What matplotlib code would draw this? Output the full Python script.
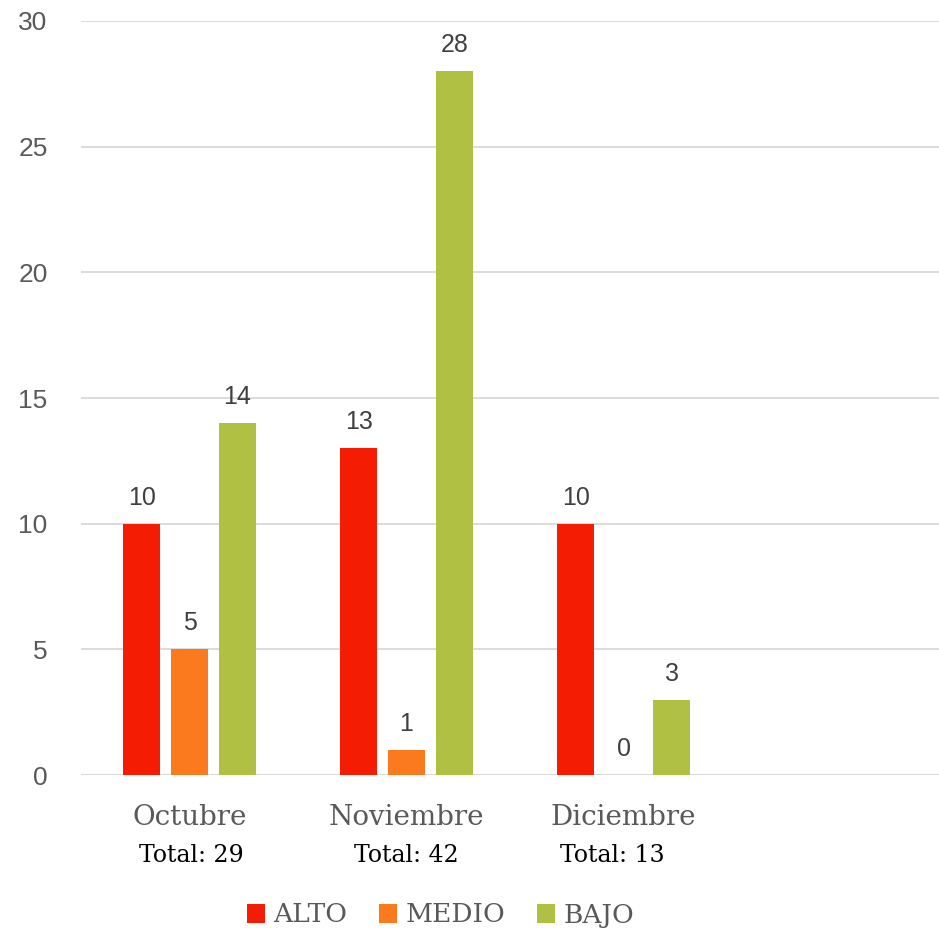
import numpy as np
import matplotlib.pyplot as plt

meses = ["Octubre", "Noviembre", "Diciembre", ""]
totales = ["Total: 29", "Total: 42", "Total: 13"]
alto = [10, 13, 10]
medio = [5, 1, 0]
bajo = [14, 28, 3]
series = ["ALTO", "MEDIO", "BAJO"]
colores = ["#F41C02", "#FA7A1D", "#B0C043"]

gris = "#595959"
fig = plt.figure(figsize=(9.39, 9.33), dpi=100)
ax = fig.add_axes([0.0863, 0.1693, 0.9244, 0.8082])

x = np.arange(len(alto))
w = 0.171
paso = 0.221
for i, (vals, nom, col) in enumerate(zip([alto, medio, bajo], series, colores)):
    pos = x + (i - 1) * paso
    ax.bar(pos, vals, w, color=col, label=nom, zorder=3)
    for p, v in zip(pos, vals):
        ax.annotate(str(v), (p, v), xytext=(0, 10), textcoords="offset points",
                    ha="center", va="bottom", fontsize=18, color="#404040",
                    family="Liberation Sans")

ax.set_xlim(-0.5, 3.5)
ax.set_ylim(0, 30)
ax.set_yticks(range(0, 31, 5))
ax.yaxis.grid(True, color="#D9D9D9", linewidth=1.3, zorder=0)
ax.set_xticks(range(4))
ax.set_xticklabels(meses, fontsize=20, color=gris, family="DejaVu Serif")
ax.tick_params(axis="x", length=0, pad=21)
ax.tick_params(axis="y", length=0, pad=24, labelsize=19, labelcolor=gris)
for lab in ax.get_yticklabels():
    lab.set_family("Liberation Sans")
for s in ax.spines.values():
    s.set_visible(False)
ax.axhline(0, color="#D9D9D9", linewidth=1.3, zorder=2)

xs_total = [191, 406, 612]
for xt, t in zip(xs_total, totales):
    fig.text(xt / 939, 1 - 855 / 933, t, ha="center", va="center",
             fontsize=17, color="black", family="DejaVu Serif")

fig.legend(loc="center", bbox_to_anchor=(0.469, 1 - 915 / 933), ncol=3,
           frameon=False, handlelength=0.7, handleheight=0.7,
           handletextpad=0.3, columnspacing=1.2,
           prop={"family": "DejaVu Serif", "size": 19}, labelcolor=gris)

fig.savefig("out.png", dpi=100)
